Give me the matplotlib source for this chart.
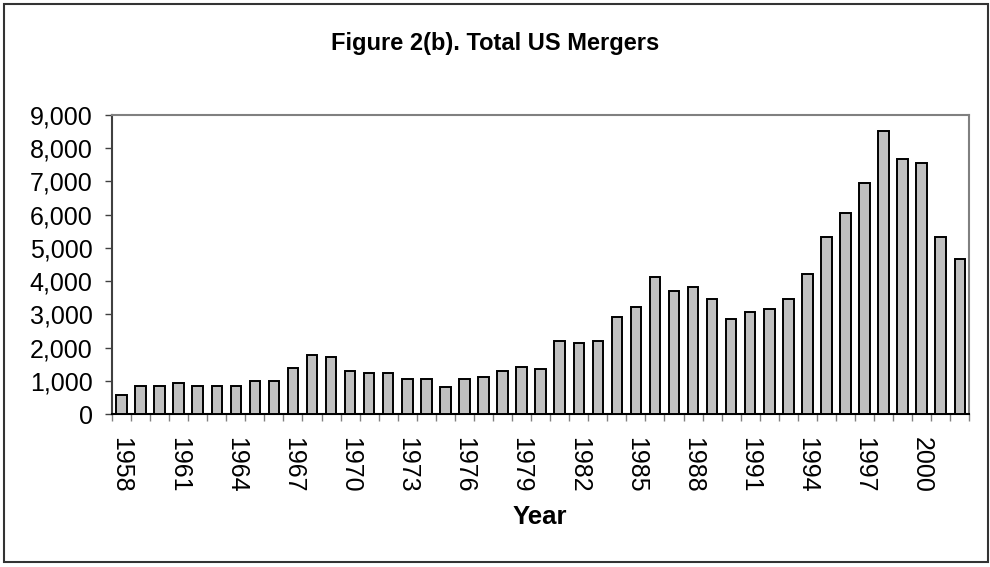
import numpy as np
import matplotlib
matplotlib.use("Agg")
import matplotlib.pyplot as plt
from matplotlib.patches import Rectangle
from matplotlib.ticker import FuncFormatter

# ---- DATA ----
years = list(range(1958, 2003))
mergers = [
    590, 840, 840, 950, 840, 840, 840, 1010, 1010, 1380,
    1790, 1730, 1310, 1250, 1250, 1070, 1070, 830, 1070, 1130,
    1310, 1430, 1370, 2210, 2140, 2210, 2930, 3230, 4130, 3710,
    3830, 3470, 2870, 3060, 3170, 3470, 4200, 5340, 6060, 6960,
    8520, 7680, 7560, 5340, 4670,
]
label_years = years[::3]

plt.rcParams["font.family"] = ["Liberation Sans", "DejaVu Sans"]

fig = plt.figure(figsize=(9.9, 5.67), dpi=100)
ax = fig.add_axes([0.1131, 0.2693, 0.866, 0.5284])

x = np.arange(len(years))
ax.bar(x, mergers, width=0.55, color="#c0c0c0", edgecolor="black", linewidth=1.4, zorder=3)

ax.set_xlim(-0.5, len(years) - 0.5)
ax.set_ylim(0, 9000)
ax.set_yticks(np.arange(0, 9001, 1000))
ax.yaxis.set_major_formatter(FuncFormatter(lambda v, p: f"{int(v):,}"))
ax.tick_params(axis="y", length=5, width=1, color="#404040", labelsize=18, pad=9)

# labels at category centres, tick marks between categories
ax.set_xticks([years.index(y) for y in label_years])
ax.set_xticklabels([str(y) for y in label_years], rotation=-90)
ax.tick_params(axis="x", which="major", length=0, labelsize=18, pad=16)
ax.set_xticks(np.arange(-0.5, len(years), 1), minor=True)
ax.tick_params(axis="x", which="minor", length=5, width=1, color="#808080")

for side in ["top", "right"]:
    ax.spines[side].set_color("#808080")
    ax.spines[side].set_linewidth(1.5)
ax.spines["left"].set_color("#404040")
ax.spines["left"].set_linewidth(1.5)
ax.spines["bottom"].set_color("black")
ax.spines["bottom"].set_linewidth(1.5)

fig.text(0.5, 0.923, "Figure 2(b). Total US Mergers", ha="center", va="center",
         fontsize=17, fontweight="bold")
fig.text(0.5455, 0.088, "Year", ha="center", va="center", fontsize=18.5, fontweight="bold")

fig.patches.append(Rectangle((0.004, 0.008), 0.994, 0.985, transform=fig.transFigure,
                             fill=False, edgecolor="#333333", linewidth=1.5))

fig.savefig("out.png", dpi=100)
